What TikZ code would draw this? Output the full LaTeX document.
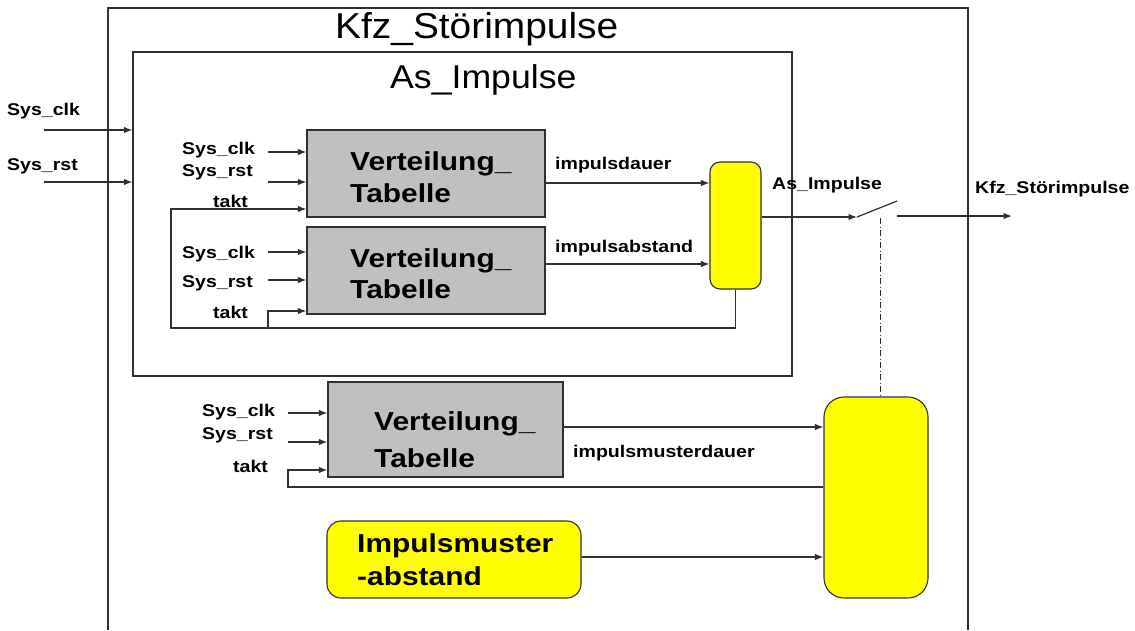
\documentclass[tikz,border=0pt]{standalone}
\usepackage{fontspec}
\setmainfont{Liberation Sans}
\newfontfamily\tfont[FakeStretch=1.08]{Liberation Sans}
\newfontfamily\bfont[FakeStretch=1.15]{Liberation Sans}
\usetikzlibrary{arrows.meta}
\definecolor{ln}{HTML}{303030}
\definecolor{gfill}{HTML}{C0C0C0}
\definecolor{yfill}{HTML}{FFFF00}
\begin{document}
\begin{tikzpicture}[x=1pt,y=-1pt,
  ln/.style={draw=ln, line width=1.2pt},
  arr/.style={ln, -{Latex[length=8.5pt,width=6.5pt]}},
  gbox/.style={draw=ln, line width=1.2pt, fill=gfill, minimum width=238pt, inner sep=0pt},
  ybox/.style={draw=ln, line width=1.1pt, fill=yfill, inner sep=0pt},
  lbl/.style={anchor=base west, inner sep=0pt, font=\bfont\bfseries\fontsize{17}{20}\selectfont},
  big/.style={anchor=base west, inner sep=0pt, font=\bfont\bfseries\fontsize{26}{30}\selectfont},
  ttl/.style={anchor=base west, inner sep=0pt, font=\tfont\fontsize{#1}{#1}\selectfont}
]
\useasboundingbox (0,0) rectangle (1135,630);
% outer box (open at bottom)
\draw[ln] (108,630) -- (108,8) -- (968,8) -- (968,630);
\node[ttl=36] (tkfz) at (335,38) {Kfz\_Störimpulse};
% inner box
\node[draw=ln, line width=1.2pt, minimum width=659pt, minimum height=324pt, inner sep=0pt] (asbox) at (462.5,214) {};
\node[ttl=33] (tas) at (390,88) {As\_Impulse};

% gray boxes
\node[gbox, minimum height=87pt] (b1) at (426,173.5) {};
\node[gbox, minimum height=87pt] (b2) at (426,270.5) {};
\node[gbox, minimum width=235pt, minimum height=95pt] (b3) at (445.5,429.5) {};
\node[big] (b1a) at (350,170) {Verteilung\_};
\node[big] (b1b) at (350,202) {Tabelle};
\node[big] (b2a) at (350,267) {Verteilung\_};
\node[big] (b2b) at (350,298) {Tabelle};
\node[big] (b3a) at (374,430) {Verteilung\_};
\node[big] (b3b) at (374,467) {Tabelle};

% yellow boxes
\node[ybox, rounded corners=10pt, minimum width=51pt, minimum height=127pt] (y1) at (735.5,225.5) {};
\node[ybox, rounded corners=20pt, minimum width=104pt, minimum height=201pt] (ybig) at (876,497.5) {};
\node[ybox, rounded corners=14pt, minimum width=254pt, minimum height=77pt] (im) at (454,559.5) {};
\node[big] (ima) at (357,552) {Impulsmuster};
\node[big] (imb) at (357,585) {-abstand};

% outer inputs
\node[lbl] (lo1) at (7,115) {Sys\_clk};
\node[lbl] (lo2) at (7,170) {Sys\_rst};
\coordinate (o1) at (44,130);
\coordinate (o2) at (44,182);
\draw[arr] (o1) -- (o1 -| asbox.west);
\draw[arr] (o2) -- (o2 -| asbox.west);

% box 1 inputs
\node[lbl] (l11) at (182,154) {Sys\_clk};
\node[lbl] (l12) at (182,176) {Sys\_rst};
\node[lbl] (l13) at (213,207) {takt};
\coordinate (i11) at (268,152);
\coordinate (i12) at (268,182);
\draw[arr] (i11) -- (i11 -| b1.west);
\draw[arr] (i12) -- (i12 -| b1.west);

% box 2 inputs
\node[lbl] (l21) at (182,258) {Sys\_clk};
\node[lbl] (l22) at (182,287) {Sys\_rst};
\node[lbl] (l23) at (213,318) {takt};
\coordinate (i21) at (268,252);
\coordinate (i22) at (268,280);
\draw[arr] (i21) -- (i21 -| b2.west);
\draw[arr] (i22) -- (i22 -| b2.west);

% feedback loop (takt)
\coordinate (lpL) at (171,328);
\coordinate (lpB) at (268,328);
\coordinate (t1) at (171,209);
\coordinate (t2) at (268,311);
\draw[arr] (y1.south) -- (y1.south |- lpL) -- (lpL) -- (t1) -- (t1 -| b1.west);
\draw[arr] (lpB) -- (t2) -- (t2 -| b2.west);

% outputs of box 1 and 2
\coordinate (p1) at (545,183);
\coordinate (p2) at (545,264);
\draw[arr] (p1 -| b1.east) -- (p1 -| y1.west);
\draw[arr] (p2 -| b2.east) -- (p2 -| y1.west);
\node[lbl] (ld) at (555,169) {impulsdauer};
\node[lbl] (la) at (555,252) {impulsabstand};

% switch and output
\coordinate (s0) at (761,217);
\coordinate (s1) at (857,217);
\coordinate (s2) at (897,201);
\coordinate (s3) at (897,216);
\coordinate (s4) at (1012,216);
\coordinate (sd) at (880,218);
\draw[arr] (s0 -| y1.east) -- (s1);
\draw[ln] (s1) -- (s2);
\draw[arr] (s3) -- (s4);
\draw[draw=ln, line width=0.9pt, dash pattern=on 6pt off 2.5pt on 1pt off 2.5pt] (sd) -- (sd |- ybig.north);
\node[lbl] (lasi) at (772,189) {As\_Impulse};
\node[lbl] (lkfz) at (975,193) {Kfz\_Störimpulse};

% box 3 inputs
\node[lbl] (l31) at (202,416) {Sys\_clk};
\node[lbl] (l32) at (202,439) {Sys\_rst};
\node[lbl] (l33) at (233,472) {takt};
\coordinate (i31) at (288,413);
\coordinate (i32) at (288,442);
\coordinate (t3) at (288,470);
\coordinate (lp3) at (288,487);
\draw[arr] (i31) -- (i31 -| b3.west);
\draw[arr] (i32) -- (i32 -| b3.west);
\draw[arr] (lp3 -| ybig.west) -- (lp3) -- (t3) -- (t3 -| b3.west);

% box 3 output and impulsmuster output
\coordinate (p3) at (563,427);
\coordinate (p4) at (581,557);
\draw[arr] (p3 -| b3.east) -- (p3 -| ybig.west);
\node[lbl] (lmd) at (573,457) {impulsmusterdauer};
\draw[arr] (p4 -| im.east) -- (p4 -| ybig.west);
\end{tikzpicture}
\end{document}
